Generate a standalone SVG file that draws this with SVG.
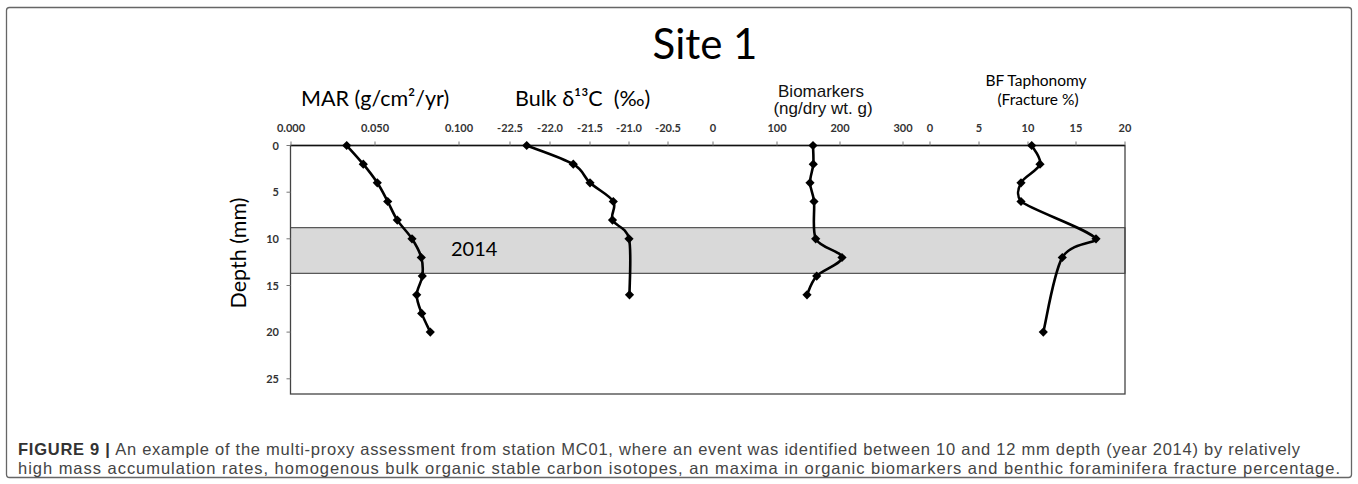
<svg xmlns="http://www.w3.org/2000/svg" width="1358" height="484" viewBox="0 0 1358 484">
<style>
.cal{font-family:Lato,"Open Sans","Liberation Sans",sans-serif;fill:#000}
.ari{font-family:"Liberation Sans",Arial,sans-serif;fill:#111}
.tick{font-family:Lato,"Liberation Sans",sans-serif;font-size:11px;fill:#333;text-anchor:middle;font-weight:bold}
.ytick{font-family:Lato,"Liberation Sans",sans-serif;font-size:11px;fill:#333;text-anchor:end;font-weight:bold}
.cap{font-family:"Liberation Sans",Arial,sans-serif;font-size:16.5px;fill:#444}
.series{fill:none;stroke:#000;stroke-width:2.6;stroke-linejoin:round;stroke-linecap:round}
.tk{stroke:#777;stroke-width:1}
</style>
<defs>
<path id="dm" d="M0,-4.6 L4.6,0 L0,4.6 L-4.6,0 Z" fill="#000"/>
</defs>
<rect id="frame" x="6.5" y="7.5" width="1345" height="470" rx="3" fill="#fff" stroke="#666" stroke-width="1.3"/>
<g id="titles">
<text class="cal" x="705" y="59" font-size="42" text-anchor="middle">Site 1</text>
<text class="cal" x="301" y="106" font-size="21.5">MAR (g/cm²/yr)</text>
<text class="cal" x="515" y="106" font-size="21.5">Bulk δ¹³C&#160; (‰)</text>
<text class="ari" x="821" y="96.5" font-size="17" text-anchor="middle">Biomarkers</text>
<text class="ari" x="823" y="114" font-size="17" text-anchor="middle">(ng/dry wt. g)</text>
<text class="cal" x="1036" y="86" font-size="15.5" text-anchor="middle">BF Taphonomy</text>
<text class="cal" x="1038" y="105" font-size="15.5" text-anchor="middle">(Fracture %)</text>
<text class="cal" transform="translate(246,253) rotate(-90)" font-size="21.5" text-anchor="middle">Depth (mm)</text>
</g>
<g id="band">
<rect x="290.5" y="227.7" width="834.5" height="45.6" fill="#d9d9d9" stroke="#333" stroke-width="1"/>
<text class="cal" x="451" y="255.5" font-size="20">2014</text>
</g>
<g id="axes">
<rect x="290.5" y="145.5" width="834.5" height="248.5" fill="none" stroke="#444" stroke-width="1.3"/>
<line x1="290.5" y1="145.5" x2="1125" y2="145.5" stroke="#111" stroke-width="1.3"/>
<g class="tk">
<line x1="291" y1="141.5" x2="291" y2="145.5"/><line x1="375" y1="141.5" x2="375" y2="145.5"/><line x1="459" y1="141.5" x2="459" y2="145.5"/>
<line x1="510" y1="141.5" x2="510" y2="145.5"/><line x1="550" y1="141.5" x2="550" y2="145.5"/><line x1="590" y1="141.5" x2="590" y2="145.5"/><line x1="629" y1="141.5" x2="629" y2="145.5"/><line x1="668" y1="141.5" x2="668" y2="145.5"/>
<line x1="713" y1="141.5" x2="713" y2="145.5"/><line x1="777" y1="141.5" x2="777" y2="145.5"/><line x1="840" y1="141.5" x2="840" y2="145.5"/><line x1="903" y1="141.5" x2="903" y2="145.5"/>
<line x1="930" y1="141.5" x2="930" y2="145.5"/><line x1="979" y1="141.5" x2="979" y2="145.5"/><line x1="1028" y1="141.5" x2="1028" y2="145.5"/><line x1="1076" y1="141.5" x2="1076" y2="145.5"/><line x1="1125" y1="141.5" x2="1125" y2="145.5"/>
<line x1="286.5" y1="145.5" x2="290.5" y2="145.5"/><line x1="286.5" y1="192.2" x2="290.5" y2="192.2"/><line x1="286.5" y1="238.8" x2="290.5" y2="238.8"/><line x1="286.5" y1="285.5" x2="290.5" y2="285.5"/><line x1="286.5" y1="332.1" x2="290.5" y2="332.1"/><line x1="286.5" y1="378.8" x2="290.5" y2="378.8"/>
</g>
<g id="xticks">
<text class="tick" x="291" y="131.5">0.000</text><text class="tick" x="375" y="131.5">0.050</text><text class="tick" x="459" y="131.5">0.100</text>
<text class="tick" x="510" y="131.5">-22.5</text><text class="tick" x="550" y="131.5">-22.0</text><text class="tick" x="590" y="131.5">-21.5</text><text class="tick" x="629" y="131.5">-21.0</text><text class="tick" x="668" y="131.5">-20.5</text>
<text class="tick" x="713" y="131.5">0</text><text class="tick" x="777" y="131.5">100</text><text class="tick" x="840" y="131.5">200</text><text class="tick" x="903" y="131.5">300</text>
<text class="tick" x="930" y="131.5">0</text><text class="tick" x="979" y="131.5">5</text><text class="tick" x="1028" y="131.5">10</text><text class="tick" x="1076" y="131.5">15</text><text class="tick" x="1125" y="131.5">20</text>
</g>
<g id="yticks">
<text class="ytick" x="279" y="149.5">0</text><text class="ytick" x="279" y="196.2">5</text><text class="ytick" x="279" y="242.8">10</text><text class="ytick" x="279" y="289.5">15</text><text class="ytick" x="279" y="336.1">20</text><text class="ytick" x="279" y="382.8">25</text>
</g>
</g>
<g id="series-mar">
<path class="series" d="M346.7,145.5 C349.5,148.6 358.2,158 363.3,164.2 C368.4,170.4 373.2,176.6 377.3,182.8 C381.4,189 384.4,195.3 387.7,201.5 C391,207.7 393.3,213.9 397.3,220.1 C401.4,226.3 408,232.6 412,238.8 C416,245 419.6,251.3 421.3,257.5 C423,263.7 423.1,269.9 422.3,276.1 C421.5,282.3 416.8,288.6 416.7,294.8 C416.6,301 419.4,307.2 421.7,313.4 C424,319.6 428.9,329 430.3,332.1"/>
<use href="#dm" x="346.7" y="145.5"/><use href="#dm" x="363.3" y="164.2"/><use href="#dm" x="377.3" y="182.8"/><use href="#dm" x="387.7" y="201.5"/><use href="#dm" x="397.3" y="220.1"/><use href="#dm" x="412" y="238.8"/><use href="#dm" x="421.3" y="257.5"/><use href="#dm" x="422.3" y="276.1"/><use href="#dm" x="416.7" y="294.8"/><use href="#dm" x="421.7" y="313.4"/><use href="#dm" x="430.3" y="332.1"/>
</g>
<g id="series-bulk">
<path class="series" d="M526.7,145.5 C534.5,148.6 562.8,158 573.3,164.2 C583.9,170.4 583.3,176.6 590,182.8 C596.7,189 609.6,195.3 613.3,201.5 C617.1,207.7 609.9,213.9 612.5,220.1 C615.1,226.3 626.2,226.4 629,238.8 C631.8,251.2 629.4,285.5 629.5,294.8"/>
<use href="#dm" x="526.7" y="145.5"/><use href="#dm" x="573.3" y="164.2"/><use href="#dm" x="590" y="182.8"/><use href="#dm" x="613.3" y="201.5"/><use href="#dm" x="612.5" y="220.1"/><use href="#dm" x="629" y="238.8"/><use href="#dm" x="629.5" y="294.8"/>
</g>
<g id="series-biomarkers">
<path class="series" d="M813,145.5 C813.05,148.6 813.8,158 813.3,164.2 C812.8,170.4 809.9,176.6 810,182.8 C810.1,189 813.05,192.2 814,201.5 C814.95,210.8 812,229.5 815.7,238.8 C820.4,248.1 841.8,251.3 842,257.5 C842.2,263.7 822.5,269.9 816.7,276.1 C810.9,282.3 808.6,291.7 807,294.8"/>
<use href="#dm" x="813" y="145.5"/><use href="#dm" x="813.3" y="164.2"/><use href="#dm" x="810" y="182.8"/><use href="#dm" x="814" y="201.5"/><use href="#dm" x="815.7" y="238.8"/><use href="#dm" x="842" y="257.5"/><use href="#dm" x="816.7" y="276.1"/><use href="#dm" x="807" y="294.8"/>
</g>
<g id="series-bf">
<path class="series" d="M1031.7,145.5 C1033.1,148.6 1041.8,158 1040,164.2 C1038.2,170.4 1024.2,176.6 1021,182.8 C1017.8,189 1016,195 1021,201.5 C1033.5,210.8 1089.1,229.5 1096,238.8 C1099,243 1071.1,241.9 1062.3,257.5 C1053.5,273 1046.5,319.7 1043.3,332.1"/>
<use href="#dm" x="1031.7" y="145.5"/><use href="#dm" x="1040" y="164.2"/><use href="#dm" x="1021" y="182.8"/><use href="#dm" x="1021" y="201.5"/><use href="#dm" x="1096" y="238.8"/><use href="#dm" x="1062.3" y="257.5"/><use href="#dm" x="1043.3" y="332.1"/>
</g>
<g id="caption">
<text class="cap" x="18" y="455" textLength="1282"><tspan font-weight="bold" fill="#333">FIGURE 9 |</tspan> An example of the multi-proxy assessment from station MC01, where an event was identified between 10 and 12 mm depth (year 2014) by relatively</text>
<text class="cap" x="18" y="474" textLength="1322">high mass accumulation rates, homogenous bulk organic stable carbon isotopes, an maxima in organic biomarkers and benthic foraminifera fracture percentage.</text>
</g>
</svg>
